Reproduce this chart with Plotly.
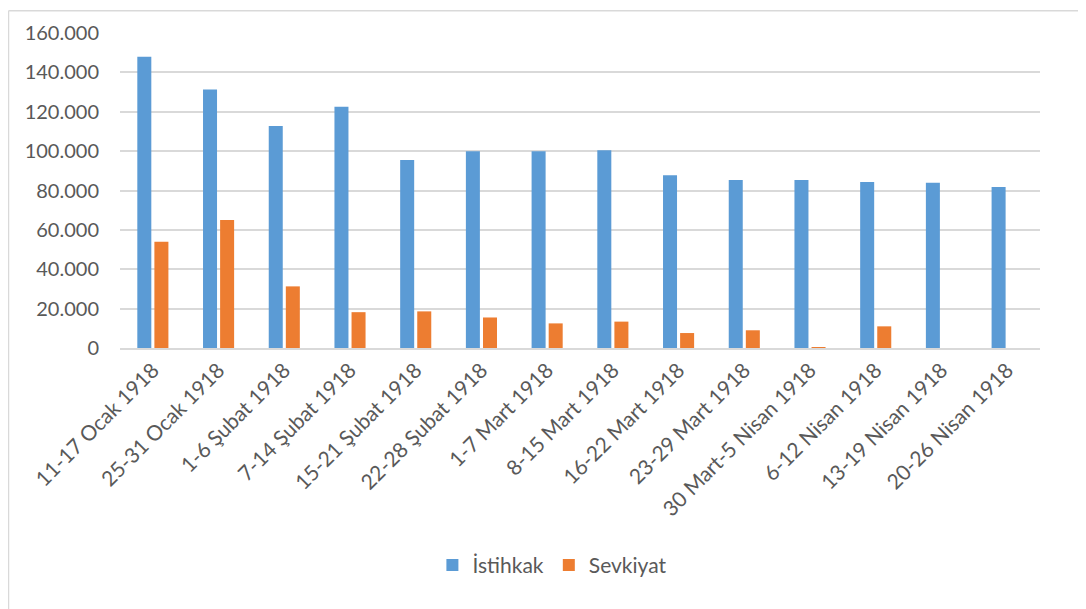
import plotly.graph_objects as go

categories = ["11-17 Ocak 1918", "25-31 Ocak 1918", "1-6 Şubat 1918", "7-14 Şubat 1918",
              "15-21 Şubat 1918", "22-28 Şubat 1918", "1-7 Mart 1918", "8-15 Mart 1918",
              "16-22 Mart 1918", "23-29 Mart 1918", "30 Mart-5 Nisan 1918", "6-12 Nisan 1918",
              "13-19 Nisan 1918", "20-26 Nisan 1918"]
istihkak = [148000, 131300, 112700, 122600, 95500, 99900, 100000, 100400,
            87800, 85300, 85300, 84300, 83900, 81800]
sevkiyat = [54000, 65000, 31300, 18200, 18600, 15500, 12500, 13400,
            7600, 9000, 500, 11000, 0, 0]
y_ticks = [0, 20000, 40000, 60000, 80000, 100000, 120000, 140000, 160000]

font_family = "Lato, 'Open Sans', sans-serif"
text_color = "#595959"

# page body has an 8px margin; plot area in the page: x 120..1040, y 31..348
L, T, PW, PH = 112, 23, 920, 317

fig = go.Figure()
fig.add_trace(go.Bar(name="İstihkak", x=categories, y=istihkak,
                     marker=dict(color="#5B9BD5", line=dict(width=0))))
fig.add_trace(go.Bar(name="Sevkiyat", x=categories, y=sevkiyat,
                     marker=dict(color="#ED7D31", line=dict(width=0))))

fig.update_layout(
    width=1086, height=609,
    margin=dict(l=L, r=1086 - L - PW, t=T, b=609 - T - PH),
    paper_bgcolor="white", plot_bgcolor="white",
    separators=",.",
    barmode="group", bargap=0.48, bargroupgap=0.18,
    font=dict(family=font_family, color=text_color, size=19),
    showlegend=True,
    legend=dict(orientation="h", x=0.47, xanchor="center", y=-0.69, yanchor="middle",
                font=dict(size=21, color=text_color)),
    xaxis=dict(tickangle=-45, showgrid=False, showline=True, linecolor="#D9D9D9",
               linewidth=1.5, ticks="", tickfont=dict(size=21, color=text_color)),
    yaxis=dict(range=[0, 160000], tickvals=y_ticks, tickformat=",d",
               showgrid=True, gridcolor="#D9D9D9", gridwidth=1.5, zeroline=False,
               showline=False, ticks="", ticklabelstandoff=20,
               tickfont=dict(size=20, color=text_color)),
    shapes=[
        dict(type="line", xref="paper", yref="paper", x0=(0.5 - L) / PW, x1=(1086 - L) / PW,
             y0=(T + PH - 0.5) / PH, y1=(T + PH - 0.5) / PH, line=dict(color="#D9D9D9", width=1.5)),
        dict(type="line", xref="paper", yref="paper", x0=(0.5 - L) / PW, x1=(0.5 - L) / PW,
             y0=(T + PH - 0.5) / PH, y1=(T + PH - 620) / PH, line=dict(color="#D9D9D9", width=1.5)),
    ],
)

fig.write_html("out.html")
